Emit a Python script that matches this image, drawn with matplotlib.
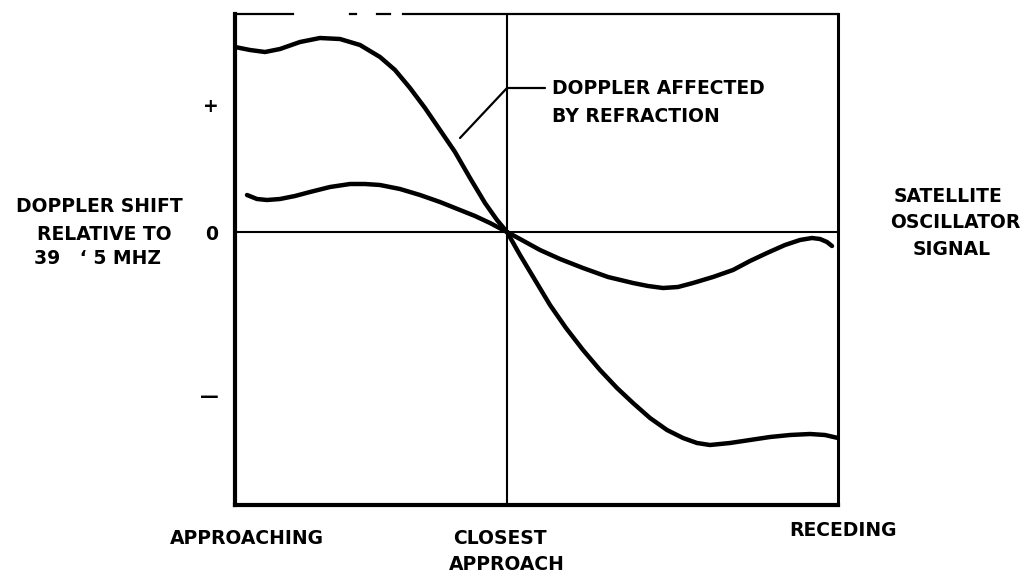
import matplotlib
matplotlib.use("Agg")
import matplotlib.pyplot as plt

# time relative to closest approach (arbitrary units) and doppler shift
refr_x = [-2.72, -2.57, -2.42, -2.27, -2.07, -1.87, -1.67, -1.47, -1.27, -1.12, -0.97, -0.82,
          -0.67, -0.52, -0.37, -0.22, -0.10, 0.00, 0.13, 0.28, 0.43, 0.59, 0.76, 0.93, 1.10,
          1.26, 1.43, 1.60, 1.76, 1.90, 2.03, 2.23, 2.43, 2.63, 2.83, 3.03, 3.18, 3.31]
refr_y = [1.85, 1.82, 1.80, 1.83, 1.90, 1.94, 1.93, 1.87, 1.75, 1.62, 1.44, 1.24,
          1.02, 0.80, 0.54, 0.29, 0.12, 0.00, -0.23, -0.48, -0.73, -0.96, -1.18, -1.38, -1.56,
          -1.71, -1.86, -1.98, -2.06, -2.11, -2.13, -2.11, -2.08, -2.05, -2.03, -2.02, -2.03, -2.06]

sat_x = [-2.60, -2.50, -2.40, -2.27, -2.12, -1.97, -1.77, -1.57, -1.42, -1.27, -1.07, -0.87,
         -0.67, -0.47, -0.32, -0.17, 0.00, 0.13, 0.33, 0.53, 0.76, 1.01, 1.26, 1.41, 1.56,
         1.71, 1.86, 2.06, 2.26, 2.43, 2.60, 2.78, 2.93, 3.05, 3.13, 3.20, 3.25]
sat_y = [0.37, 0.33, 0.32, 0.33, 0.36, 0.40, 0.45, 0.48, 0.48, 0.47, 0.43, 0.37,
         0.30, 0.22, 0.16, 0.09, 0.00, -0.07, -0.18, -0.27, -0.36, -0.45, -0.51, -0.54, -0.56,
         -0.55, -0.51, -0.45, -0.38, -0.29, -0.21, -0.13, -0.08, -0.06, -0.07, -0.10, -0.14]

ytick_pos = [1.28, 0.0, -1.63]
ytick_lab = ['+', '0', '—']

leader_x = [-0.47, 0.0, 0.38]
leader_y = [0.94, 1.44, 1.44]

fs = 13.5
fw = 'bold'

fig = plt.figure(figsize=(10.33, 5.75), dpi=100)
ax = fig.add_axes([235/1033, 1 - 505/575, 603/1033, 491/575])
ax.set_xlim(-2.72, 3.31)
ax.set_ylim(-2.73, 2.18)

ax.plot(refr_x, refr_y, color='black', lw=3.2, solid_capstyle='round', solid_joinstyle='round')
ax.plot(sat_x, sat_y, color='black', lw=3.2, solid_capstyle='round', solid_joinstyle='round')
ax.plot(leader_x, leader_y, color='black', lw=1.6, solid_capstyle='round')

ax.axhline(0, color='black', lw=1.5)
ax.axvline(0, color='black', lw=1.5)

# box - top edge is broken in the original print
ax.spines['top'].set_visible(False)
for seg in [(0.0, 0.096), (0.19, 0.20), (0.235, 0.257), (0.279, 1.0)]:
    ax.axhline(2.18, xmin=seg[0], xmax=seg[1], color='black', lw=1.6, clip_on=False)
ax.spines['left'].set_linewidth(3.0)
ax.spines['bottom'].set_linewidth(3.0)
ax.spines['right'].set_linewidth(2.2)

ax.set_xticks([])
ax.set_yticks(ytick_pos)
ax.set_yticklabels(ytick_lab, fontsize=fs, fontweight=fw)
ax.tick_params(axis='y', length=0, pad=12)

ax.text(0.45, 1.44, 'DOPPLER AFFECTED', fontsize=fs, fontweight=fw, va='center', ha='left')
ax.text(0.45, 1.16, 'BY REFRACTION', fontsize=fs, fontweight=fw, va='center', ha='left')

def ftext(px, py, s, ha='center'):
    fig.text(px / 1033, 1 - py / 575, s, fontsize=fs, fontweight=fw, ha=ha, va='center')

ftext(99, 206, 'DOPPLER SHIFT')
ftext(104, 234, 'RELATIVE TO')
ftext(98, 258, '39   \u2018 5 MHZ')

ftext(948, 197, 'SATELLITE')
ftext(955, 223, 'OSCILLATOR')
ftext(952, 250, 'SIGNAL')

ftext(247, 538, 'APPROACHING')
ftext(500, 538, 'CLOSEST')
ftext(507, 565, 'APPROACH')
ftext(843, 531, 'RECEDING')

fig.savefig('out.png', dpi=100)
